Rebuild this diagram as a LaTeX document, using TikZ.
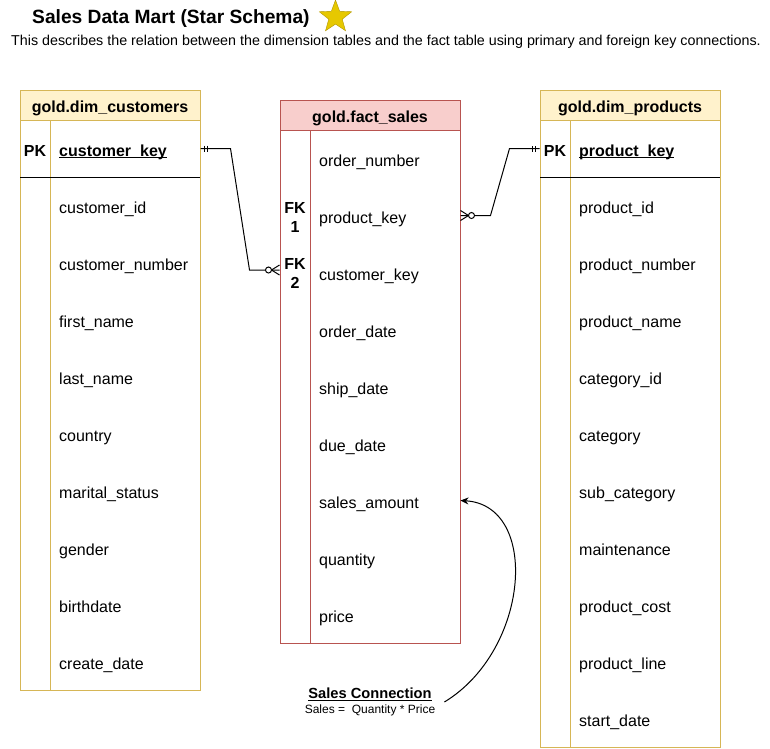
\documentclass[tikz,border=0pt]{standalone}
\usepackage{fontspec}
\setmainfont{Liberation Sans}
\usetikzlibrary{shapes.geometric,arrows.meta,positioning}
\definecolor{dimfill}{HTML}{FFF2CC}
\definecolor{dimline}{HTML}{D6B656}
\definecolor{factfill}{HTML}{F8CECC}
\definecolor{factline}{HTML}{B85450}
\definecolor{starfill}{HTML}{E6C800}
\definecolor{starline}{HTML}{B09500}
\newcommand{\fieldfont}{\fontsize{16}{19}\selectfont}
\newsavebox{\ulbox}
\newcommand{\ulkey}[1]{\sbox{\ulbox}{#1}\rlap{\rule[-2pt]{\wd\ulbox}{1pt}}\usebox{\ulbox}}
\tikzset
{
    tablehead/.style = {draw, line width=1pt, minimum width=180pt, minimum height=30pt, inner sep=0pt, text height=15pt, text depth=0pt, font=\bfseries\fieldfont},
    tablebody/.style = {line width=1pt},
    field/.style     = {anchor=west, inner sep=0pt, text height=15pt, text depth=0pt, font=\fieldfont},
    keytag/.style    = {inner sep=0pt, align=center, font=\bfseries\fieldfont},
    relation/.style  = {draw=black, line width=1pt},
    pics/mandone/.style  = {code={\draw[line width=1pt] (4,-3) -- (4,3) (7,-3) -- (7,3);}},
    pics/zeromany/.style = {code={\draw[line width=1pt] (0,-5) -- (8,0) -- (0,5); \draw[line width=1pt, fill=white] (11,0) circle (3pt);}}
}
\begin{document}
\begin{tikzpicture}[x=1pt, y=-1pt, >={Stealth[length=8pt, width=7pt]}]
    \useasboundingbox (0,0) rectangle (770,748);

    \node [anchor=base west, inner sep=0pt, font=\bfseries\fontsize{19.2}{23}\selectfont] (title) at (32,23.3) {Sales Data Mart (Star Schema)};
    \node [star, star points=5, star point ratio=2.4, minimum size=34pt, inner sep=0pt, fill=starfill, draw=starline] (mark) at (335.5,17) {};
    \node [anchor=base west, inner sep=0pt, font=\fontsize{14.3}{17}\selectfont] (subtitle) at (11,45) {This describes the relation between the dimension tables and the fact table using primary and foreign key connections.};

    % customers
    \node [tablehead, fill=dimfill, draw=dimline] (cust) at (110,105) {gold.dim\_customers};
    \draw [tablebody, draw=dimline] (20,120) rectangle (200,690) (50,120) -- (50,690);
    \draw [line width=1pt] (20,177) -- (200,177);
    \node [keytag, text height=15pt, text depth=0pt] (cust-tag) at (35,148.5) {PK};
    \node [field, font=\bfseries\fieldfont] (cust-0) at (59,148.5) {\ulkey{customer\_key}};
    \foreach \name [count=\i] in {customer\_id, customer\_number, first\_name, last\_name, country, marital\_status, gender, birthdate, create\_date}
        \node [field] (cust-\i) at (59,148.5+57*\i) {\name};

    % fact
    \node [tablehead, fill=factfill, draw=factline] (fact) at (370,115) {gold.fact\_sales};
    \draw [tablebody, draw=factline] (280,130) rectangle (460,643) (310,130) -- (310,643);
    \foreach \name [count=\i] in {order\_number, product\_key, customer\_key, order\_date, ship\_date, due\_date, sales\_amount, quantity, price}
        \node [field] (fact-\i) at (319,101.5+57*\i) {\name};
    \node [keytag, anchor=north] (fact-tag1) at (295,201.8) {FK\\1};
    \node [keytag, anchor=north] (fact-tag2) at (295,258.5) {FK\\2};

    % products
    \node [tablehead, fill=dimfill, draw=dimline] (prod) at (630,105) {gold.dim\_products};
    \draw [tablebody, draw=dimline] (540,120) rectangle (720,747) (570,120) -- (570,747);
    \draw [line width=1pt] (540,177) -- (720,177);
    \node [keytag, text height=15pt, text depth=0pt] (prod-tag) at (555,148.5) {PK};
    \node [field, font=\bfseries\fieldfont] (prod-0) at (579,148.5) {\ulkey{product\_key}};
    \foreach \name [count=\i] in {product\_id, product\_number, product\_name, category\_id, category, sub\_category, maintenance, product\_cost, product\_line, start\_date}
        \node [field] (prod-\i) at (579,148.5+57*\i) {\name};

    % relations
    \draw [relation] (cust-0 -| cust.east) -- ++(30,0) -- ([xshift=-30pt, yshift=2.5pt]fact-3 -| fact.west) -- ([yshift=2.5pt]fact-3 -| fact.west);
    \pic at (cust-0 -| cust.east) {mandone};
    \pic [rotate=180] at ([yshift=2.5pt]fact-3 -| fact.west) {zeromany};
    \draw [relation] (fact-2 -| fact.east) -- ++(30,0) -- ([xshift=-30pt]prod-0 -| prod.west) -- (prod-0 -| prod.west);
    \pic at (fact-2 -| fact.east) {zeromany};
    \pic [rotate=180] at (prod-0 -| prod.west) {mandone};

    % note
    \node [align=center, inner sep=0pt] (note) at (370,702) {{\bfseries\fontsize{14.67}{16}\selectfont\ulkey{Sales Connection}}\\[3pt]{\fontsize{12}{14}\selectfont Sales =\ \ Quantity * Price}};
    \draw [->, line width=1pt] ([xshift=9pt]note.east) .. controls (530,650) and (540,505) .. (fact-7 -| fact.east);
\end{tikzpicture}
\end{document}
